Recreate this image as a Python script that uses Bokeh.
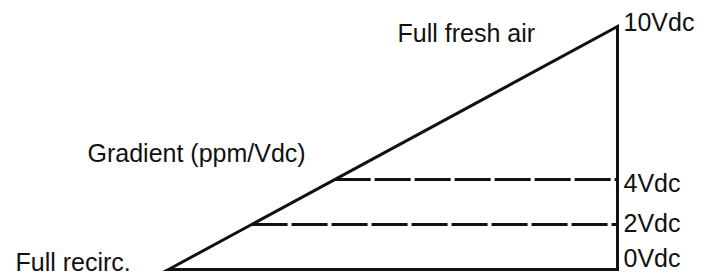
from bokeh.plotting import figure
from bokeh.models import Range1d
from bokeh.core.properties import value
from bokeh.embed import file_html
from bokeh.resources import INLINE

# ---- data (schematic: x = position along CO2 ramp, y = drawn output level) ----
level_labels = ["0Vdc", "2Vdc", "4Vdc", "10Vdc"]
level_height = [0.0, 1.85, 3.7, 10.0]          # drawn height of each output level (full scale = 10)
dashed_labels = ["2Vdc", "4Vdc"]
ramp_start = 0.0                               # full recirculation
ramp_end = 10.0                                # full fresh air
note_labels = ["Full fresh air", "Gradient (ppm/Vdc)", "Full recirc."]

# ---- layout / style ----
W, H = 709, 275
PX_X = 44.9      # pixels per x unit
PX_Y = 24.3      # pixels per y unit
REF_X0, REF_Y0 = 168, 269   # canvas position of the ramp origin
TEXT_DY = -9                # baseline correction for the text renderer
FONT = value("Liberation Sans")
FSIZE = "25px"
INK = "#111111"

def ref(px, py):
    """convert canvas pixel positions to data units"""
    return (px - REF_X0) / PX_X, (REF_Y0 - py) / PX_Y

p = figure(width=W, height=H, output_backend="svg", toolbar_location=None,
           x_range=Range1d(-REF_X0 / PX_X, (W - REF_X0) / PX_X),
           y_range=Range1d(-(H - REF_Y0) / PX_Y, REF_Y0 / PX_Y),
           x_axis_location=None, y_axis_location=None,
           min_border=0, outline_line_color=None)
p.grid.visible = False
p.background_fill_color = "white"
p.border_fill_color = "white"

# dashed intermediate levels
lvl = dict(zip(level_labels, level_height))
full = lvl["10Vdc"]
xs, ys = [], []
for name in dashed_labels:
    h = lvl[name]
    xstart = ramp_start + (ramp_end - ramp_start) * h / full
    xs.append([xstart, ramp_end])
    ys.append([h, h])
p.multi_line(xs=xs, ys=ys, line_color=INK, line_width=3, line_dash="36 4")

# ramp triangle
p.patch(x=[ramp_start, ramp_end, ramp_end], y=[lvl["0Vdc"], full, lvl["0Vdc"]],
        fill_color=None, line_color=INK, line_width=3, line_join="miter")

# level labels (left edge / baseline positions)
label_base_px = {"0Vdc": 266, "2Vdc": 231, "4Vdc": 191, "10Vdc": 30}
lx, ly = [], []
for name in level_labels:
    x, y = ref(623, label_base_px[name] + TEXT_DY)
    lx.append(x); ly.append(y)
p.text(x=lx, y=ly, text=level_labels, text_font=FONT, text_font_size=FSIZE,
       text_color=INK, text_baseline="alphabetic", text_align="left")

# notes
note_pos_px = [(397, 41), (87, 161), (15, 270)]
nx = [ref(a, b + TEXT_DY)[0] for a, b in note_pos_px]
ny = [ref(a, b + TEXT_DY)[1] for a, b in note_pos_px]
p.text(x=nx, y=ny, text=note_labels, text_font=FONT, text_font_size=FSIZE,
       text_color=INK, text_baseline="alphabetic", text_align="left")

open("out.html", "w").write(file_html(p, INLINE))
